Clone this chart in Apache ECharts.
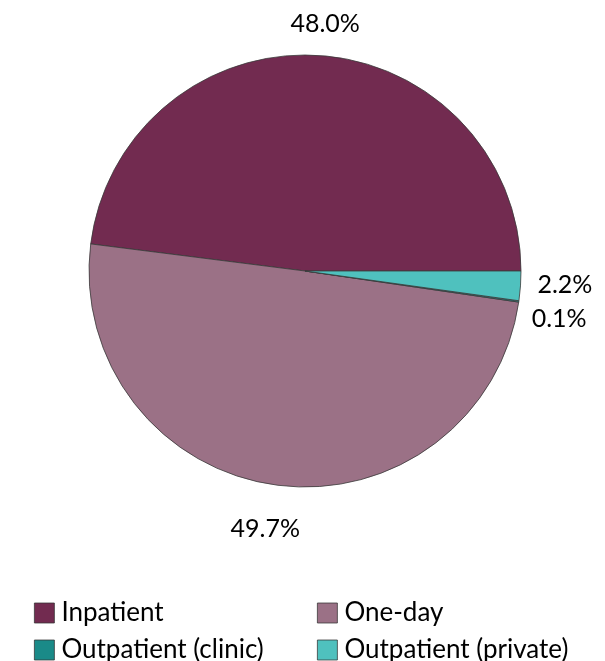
<!DOCTYPE html>
<html>
<head>
<meta charset="utf-8">
<script src="https://cdn.jsdelivr.net/npm/echarts@6/dist/echarts.min.js"></script>
<style>html,body{margin:0;padding:0;background:#fff;}#c{width:605px;height:661px;}</style>
</head>
<body>
<div id="c"></div>
<script>
var categories = ['Inpatient', 'One-day', 'Outpatient (clinic)', 'Outpatient (private)'];
var values = [48.0, 49.7, 0.1, 2.2];
var colors = ['#722B50', '#9B7186', '#1A8A88', '#4FC1BE'];
// label nudges (style only): [dx, dy] per slice
var labelNudge = [[-38, -18], [35, 30], [-10, 16], [-6, -2]];

var chart = echarts.init(document.getElementById('c'));
var font = 'Lato, "Open Sans", sans-serif';
var data = categories.map(function (n, i) {
  return { name: n, value: values[i], itemStyle: { color: colors[i] } };
});
var legendBase = {
  orient: 'vertical', padding: 0, itemWidth: 20, itemHeight: 20, itemGap: 11, icon: 'rect',
  itemStyle: { borderColor: '#333', borderWidth: 0.75 },
  textStyle: { fontFamily: font, fontSize: 26, lineHeight: 24, color: '#000', padding: [0, 0, 0, 2] }
};
chart.setOption({
  animation: false,
  legend: [
    Object.assign({}, legendBase, { left: 34, bottom: -2, data: [categories[0], categories[2]] }),
    Object.assign({}, legendBase, { left: 317, bottom: -2, data: [categories[1], categories[3]] })
  ],
  series: [{
    type: 'pie',
    center: [305, 271],
    radius: 216,
    startAngle: 0,
    clockwise: false,
    avoidLabelOverlap: false,
    itemStyle: { borderColor: '#3a3a3a', borderWidth: 0.8 },
    label: {
      show: true,
      position: 'outside',
      formatter: function (p) { return p.value.toFixed(1) + '%'; },
      fontFamily: font, fontSize: 25, color: '#000'
    },
    labelLine: { show: false, length: 14, length2: 4 },
    labelLayout: function (p) {
      var n = labelNudge[p.dataIndex];
      return { dx: n[0], dy: n[1] };
    },
    emphasis: { disabled: true },
    data: data
  }]
});
</script>
</body>
</html>
